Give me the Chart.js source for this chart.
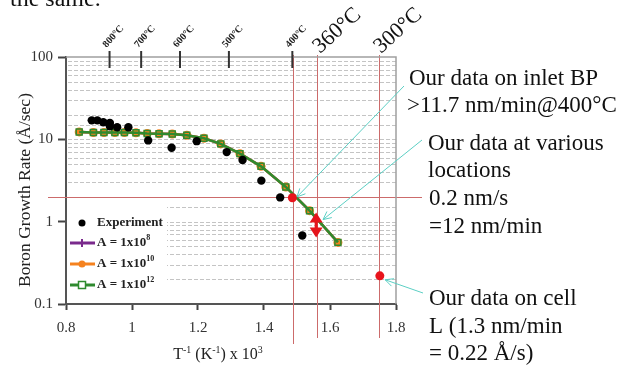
<!DOCTYPE html>
<html lang="en">
<head>
<meta charset="UTF-8">
<title>Boron Growth Rate</title>
<script src="https://cdn.jsdelivr.net/npm/chart.js"></script>
<style>
  body { margin: 0; background: #fff; }
  canvas { display: block; }
</style>
</head>
<body>
<canvas id="chart" width="638" height="365"></canvas>
<script>
const serif = '"Liberation Serif", "Times New Roman", serif';

// experiment (black dots)
const expX = [0.878, 0.895, 0.913, 0.933, 0.933, 0.955, 0.989, 1.049, 1.120, 1.196, 1.287, 1.335, 1.392, 1.449, 1.516];
const expRate = [17.0, 17.0, 16.1, 15.8, 14.4, 14.0, 14.0, 9.7, 7.9, 9.5, 7.0, 5.6, 3.15, 1.97, 0.68];

// model curves, the three lie on top of each other
const modelX = [0.840, 0.883, 0.915, 0.948, 0.977, 1.012, 1.046, 1.082, 1.122, 1.166, 1.218, 1.269, 1.327, 1.391, 1.466, 1.538, 1.624];
const rateA8 = [12.3, 12.1, 12.1, 12.1, 12.1, 12.0, 11.8, 11.7, 11.6, 11.2, 10.3, 8.8, 6.7, 4.7, 2.64, 1.36, 0.56];
const rateA10 = [12.3, 12.1, 12.1, 12.1, 12.1, 12.0, 11.8, 11.7, 11.6, 11.2, 10.3, 8.8, 6.7, 4.7, 2.64, 1.36, 0.56];
const rateA12 = [12.3, 12.1, 12.1, 12.1, 12.1, 12.0, 11.8, 11.7, 11.6, 11.2, 10.3, 8.8, 6.7, 4.7, 2.64, 1.36, 0.56];

// our measurements (red dots)
const oursX = [1.486, 1.751];
const oursRate = [1.95, 0.22];

const xTicks = [0.8, 1, 1.2, 1.4, 1.6, 1.8];
const topTempC = [800, 700, 600, 500, 400];

// red guide lines and the red range arrow
const guideX = [1.489, 1.56, 1.749];
const guideBottom = [344, 338, 338];
const guideRate = 2;
const rangeX = 1.558;
const rangeRate = [1.29, 0.64];

// callout arrows: tail in pixels near the text, tip in data units
const callouts = [
  { from: [404, 86], x: 1.50, y: 2.0 },
  { from: [422, 140], x: 1.579, y: 1.06 },
  { from: [423, 293], x: 1.767, y: 0.197 }
];

function pts(xs, ys) { return xs.map((x, i) => ({ x: x, y: ys[i] })); }
function isMajor(v) { const l = Math.log10(v); return Math.abs(l - Math.round(l)) < 1e-6; }

function rich(ctx, parts, x, y, size, weight, align) {
  const w = weight ? weight + ' ' : '';
  let total = 0;
  parts.forEach(p => {
    ctx.font = w + (p.sup ? size * 0.62 : size) + 'px ' + serif;
    total += ctx.measureText(p.t).width;
  });
  let cx = align === 'center' ? x - total / 2 : x;
  ctx.textAlign = 'left';
  parts.forEach(p => {
    ctx.font = w + (p.sup ? size * 0.62 : size) + 'px ' + serif;
    ctx.fillText(p.t, cx, p.sup ? y - size * 0.38 : y);
    cx += ctx.measureText(p.t).width;
  });
}

function openArrow(ctx, x1, y1, x2, y2, head) {
  ctx.beginPath(); ctx.moveTo(x1, y1); ctx.lineTo(x2, y2); ctx.stroke();
  const a = Math.atan2(y2 - y1, x2 - x1);
  ctx.beginPath();
  ctx.moveTo(x2 - head * Math.cos(a - 0.45), y2 - head * Math.sin(a - 0.45));
  ctx.lineTo(x2, y2);
  ctx.lineTo(x2 - head * Math.cos(a + 0.45), y2 - head * Math.sin(a + 0.45));
  ctx.stroke();
}

const decor = {
  id: 'decor',
  beforeDatasetsDraw(chart) {
    const { ctx, chartArea: a, scales: { x, y } } = chart;
    ctx.save();
    ctx.strokeStyle = '#c4c4c4';
    ctx.lineWidth = 1;
    ctx.setLineDash([4, 2]);
    y.ticks.forEach(t => {
      if (t.value <= 0.1 || t.value >= 100) return;
      const py = Math.round(y.getPixelForValue(t.value)) + 0.5;
      ctx.beginPath(); ctx.moveTo(a.left + 2, py); ctx.lineTo(a.right, py); ctx.stroke();
    });
    ctx.setLineDash([]);
    // legend backing
    ctx.fillStyle = '#fff';
    ctx.fillRect(a.left + 1, 203, 100, a.bottom - 204);
    // red guides
    ctx.strokeStyle = '#cc6b6b';
    ctx.lineWidth = 1;
    guideX.forEach((gx, i) => {
      const px = Math.round(x.getPixelForValue(gx)) + 0.5;
      ctx.beginPath(); ctx.moveTo(px, a.top - 2); ctx.lineTo(px, guideBottom[i]); ctx.stroke();
    });
    const gy = Math.round(y.getPixelForValue(guideRate)) + 0.5;
    ctx.beginPath(); ctx.moveTo(48, gy); ctx.lineTo(422, gy); ctx.stroke();
    ctx.restore();
  },
  afterDatasetsDraw(chart) {
    const { ctx, chartArea: a, scales: { x, y } } = chart;
    ctx.save();
    // red double arrow
    const rx = x.getPixelForValue(rangeX);
    const ry1 = y.getPixelForValue(rangeRate[0]);
    const ry2 = y.getPixelForValue(rangeRate[1]);
    ctx.strokeStyle = '#e5141c'; ctx.fillStyle = '#e5141c'; ctx.lineWidth = 3;
    ctx.beginPath(); ctx.moveTo(rx, ry1 + 6); ctx.lineTo(rx, ry2 - 6); ctx.stroke();
    ctx.beginPath(); ctx.moveTo(rx, ry1); ctx.lineTo(rx - 6.5, ry1 + 10); ctx.lineTo(rx + 6.5, ry1 + 10); ctx.closePath(); ctx.fill();
    ctx.beginPath(); ctx.moveTo(rx, ry2); ctx.lineTo(rx - 6.5, ry2 - 10); ctx.lineTo(rx + 6.5, ry2 - 10); ctx.closePath(); ctx.fill();

    // frame top/right
    ctx.strokeStyle = '#a0a0a0'; ctx.lineWidth = 1.5;
    ctx.beginPath(); ctx.moveTo(a.left, a.top); ctx.lineTo(a.right, a.top); ctx.lineTo(a.right, a.bottom); ctx.stroke();

    // top temperature ticks
    ctx.strokeStyle = '#333'; ctx.lineWidth = 2; ctx.fillStyle = '#222';
    topTempC.forEach(t => {
      const px = x.getPixelForValue(1000 / (t + 273));
      ctx.beginPath(); ctx.moveTo(px, a.top - 6); ctx.lineTo(px, a.top + 11); ctx.stroke();
      ctx.save();
      ctx.translate(px - 3, a.top - 9);
      ctx.rotate(-48 * Math.PI / 180);
      ctx.font = 'bold 10px ' + serif;
      ctx.textAlign = 'left'; ctx.textBaseline = 'alphabetic';
      ctx.fillText(t + '\u00b0C', 0, 0);
      ctx.restore();
    });

    // callouts
    ctx.strokeStyle = '#5ccfc4'; ctx.lineWidth = 1;
    callouts.forEach(c => {
      openArrow(ctx, c.from[0], c.from[1], x.getPixelForValue(c.x), y.getPixelForValue(c.y), 9);
    });

    // legend
    ctx.textBaseline = 'middle';
    ctx.fillStyle = '#000';
    ctx.beginPath(); ctx.arc(82, 223, 3.5, 0, Math.PI * 2); ctx.fill();
    ctx.fillStyle = '#222';
    rich(ctx, [{ t: 'Experiment' }], 97, 223, 13, 'bold', 'left');
    const legendLines = [
      { color: '#7a2a8c', y: 243, exp: '8', style: 'cross' },
      { color: '#f5821f', y: 264, exp: '10', style: 'circle' },
      { color: '#2f8a2f', y: 285, exp: '12', style: 'rect' }
    ];
    legendLines.forEach(l => {
      ctx.strokeStyle = l.color; ctx.lineWidth = 3;
      ctx.beginPath(); ctx.moveTo(70, l.y); ctx.lineTo(95, l.y); ctx.stroke();
      if (l.style === 'circle') {
        ctx.fillStyle = l.color; ctx.beginPath(); ctx.arc(82, l.y, 3.5, 0, Math.PI * 2); ctx.fill();
      } else if (l.style === 'rect') {
        ctx.fillStyle = '#fff'; ctx.lineWidth = 1.5;
        ctx.fillRect(78.5, l.y - 3.5, 7, 7); ctx.strokeRect(78.5, l.y - 3.5, 7, 7);
      } else {
        ctx.lineWidth = 2;
        ctx.beginPath(); ctx.moveTo(82, l.y - 4); ctx.lineTo(82, l.y + 4); ctx.stroke();
      }
      ctx.fillStyle = '#222';
      rich(ctx, [{ t: 'A = 1x10' }, { t: l.exp, sup: true }], 97, l.y, 13, 'bold', 'left');
    });

    ctx.restore();
  },
  afterDraw(chart) {
    const { ctx } = chart;
    ctx.save();
    ctx.fillStyle = '#222';
    ctx.textBaseline = 'alphabetic';
    // axis titles
    rich(ctx, [{ t: 'T' }, { t: '-1', sup: true }, { t: ' (K' }, { t: '-1', sup: true }, { t: ') x 10' }, { t: '3', sup: true }], 218, 359, 16, '', 'center');
    ctx.save();
    ctx.translate(30, 190);
    ctx.rotate(-Math.PI / 2);
    ctx.font = '17.5px ' + serif;
    ctx.textAlign = 'center';
    ctx.fillText('Boron Growth Rate (\u00c5/sec)', 0, 0);
    ctx.restore();

    // texts on the right
    ctx.fillStyle = '#111';
    ctx.font = '23px ' + serif;
    ctx.textAlign = 'left';
    ctx.fillText('Our data on inlet BP', 409, 85);
    ctx.fillText('>11.7 nm/min@400\u00b0C', 407, 112);
    ctx.fillText('Our data at various', 428, 150);
    ctx.fillText('locations', 428, 177);
    ctx.fillText('0.2 nm/s', 429, 205);
    ctx.fillText('=12 nm/min', 429, 233);
    ctx.fillText('Our data on cell', 429, 305);
    ctx.fillText('L (1.3 nm/min', 429, 333);
    ctx.fillText('= 0.22 \u00c5/s)', 429, 360);

    // rotated temperatures
    [['360\u00b0C', 320, 54], ['300\u00b0C', 381, 54]].forEach(t => {
      ctx.save();
      ctx.translate(t[1], t[2]);
      ctx.rotate(-42 * Math.PI / 180);
      ctx.font = '22px ' + serif;
      ctx.fillText(t[0], 0, 0);
      ctx.restore();
    });

    // leftover caption clipped at the top
    ctx.font = '24px ' + serif;
    ctx.fillText('the same.', 10, 6);
    ctx.restore();
  }
};

new Chart(document.getElementById('chart'), {
  type: 'scatter',
  data: {
    datasets: [
      {
        label: 'Our data',
        data: pts(oursX, oursRate),
        backgroundColor: '#e8141c',
        borderWidth: 0,
        pointRadius: 4.5
      },
      {
        label: 'Experiment',
        data: pts(expX, expRate),
        backgroundColor: '#000',
        borderWidth: 0,
        pointRadius: 4.2
      },
      {
        label: 'A = 1x10^12',
        data: pts(modelX, rateA12),
        showLine: true,
        borderColor: '#2f8a2f',
        borderWidth: 2.5,
        pointStyle: 'rect',
        pointRadius: 4.2,
        pointBackgroundColor: 'rgba(0,0,0,0)',
        pointBorderColor: '#2f8a2f',
        pointBorderWidth: 1.5
      },
      {
        label: 'A = 1x10^10',
        data: pts(modelX, rateA10),
        showLine: true,
        borderColor: '#f5821f',
        borderWidth: 2.5,
        pointRadius: 4.5,
        pointBackgroundColor: '#f5821f',
        pointBorderWidth: 0
      },
      {
        label: 'A = 1x10^8',
        data: pts(modelX, rateA8),
        showLine: true,
        borderColor: '#7a2a8c',
        borderWidth: 2.5,
        pointRadius: 2,
        pointBackgroundColor: '#7a2a8c',
        pointBorderWidth: 0
      }
    ]
  },
  options: {
    responsive: false,
    animation: false,
    layout: { padding: { top: 57, right: 242, left: 0, bottom: 0 } },
    plugins: { legend: { display: false }, tooltip: { enabled: false } },
    scales: {
      x: {
        type: 'linear',
        min: 0.8,
        max: 1.8,
        afterBuildTicks: s => { s.ticks = xTicks.map(v => ({ value: v })); },
        afterFit: s => { s.height = 61; },
        ticks: {
          autoSkip: false,
          maxRotation: 0,
          padding: 9,
          color: '#333',
          font: { family: serif, size: 15 },
          callback: v => String(+v.toFixed(1))
        },
        grid: { drawOnChartArea: false, tickLength: 6, tickWidth: 2, tickColor: '#444' },
        border: { color: '#555', width: 2 }
      },
      y: {
        type: 'logarithmic',
        min: 0.1,
        max: 100,
        afterFit: s => { s.width = 66; },
        ticks: {
          autoSkip: false,
          padding: 5,
          color: '#333',
          font: { family: serif, size: 15 },
          callback: v => isMajor(v) ? String(v) : ''
        },
        grid: {
          drawOnChartArea: false,
          tickLength: 8,
          tickWidth: 2,
          tickColor: c => (c.tick && isMajor(c.tick.value)) ? '#444' : 'rgba(0,0,0,0)'
        },
        border: { color: '#555', width: 2 }
      }
    }
  },
  plugins: [decor]
});
</script>
</body>
</html>
